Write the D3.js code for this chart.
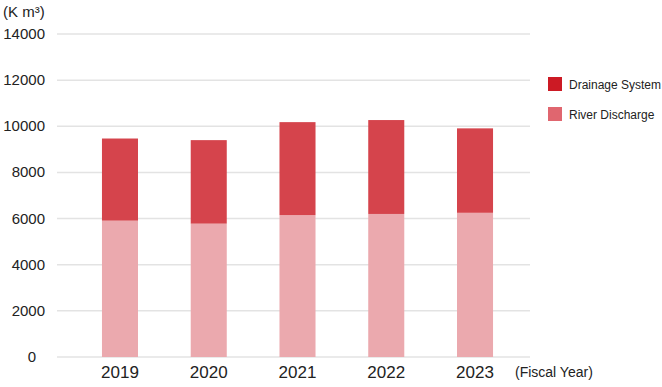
<!DOCTYPE html>
<html>
<head>
<meta charset="utf-8">
<script src="https://cdn.jsdelivr.net/npm/d3@7"></script>
<style>
  body { margin: 0; background: #fff; }
  svg { font-family: "Liberation Sans", Arial, sans-serif; }
</style>
</head>
<body>
<svg id="chart" width="662" height="387"></svg>
<script>
var years = ["2019", "2020", "2021", "2022", "2023"];
var river = [5910, 5780, 6150, 6200, 6250];
var drainage = [3560, 3620, 4030, 4070, 3660];
var yTicks = [0, 2000, 4000, 6000, 8000, 10000, 12000, 14000];
var seriesNames = ["Drainage System", "River Discharge"];

var svg = d3.select("#chart");
var x = d3.scaleBand().domain(years).range([75.6, 519.4]).paddingInner(0.594).paddingOuter(0.297);
var y = d3.scaleLinear().domain([0, 14000]).range([357, 34]);

// grid
svg.selectAll("line.grid").data(yTicks).enter().append("line")
  .attr("x1", 57).attr("x2", 530)
  .attr("y1", function(d){ return y(d); }).attr("y2", function(d){ return y(d); })
  .attr("stroke", "#e3e3e3").attr("stroke-width", 1.5);

// y labels
svg.selectAll("text.ytick").data(yTicks).enter().append("text")
  .attr("x", function(d){ return d == 0 ? 36 : 45; })
  .attr("y", function(d){ return y(d) + 5; })
  .attr("text-anchor", "end").attr("font-size", 15).attr("fill", "#222")
  .text(function(d){ return d; });

svg.append("text").attr("x", 3).attr("y", 17).attr("font-size", 15).attr("fill", "#222").text("(K m³)");

// bars
svg.selectAll("rect.river").data(river).enter().append("rect")
  .attr("x", function(d,i){ return x(years[i]); })
  .attr("y", function(d){ return y(d); })
  .attr("width", x.bandwidth())
  .attr("height", function(d){ return y(0) - y(d); })
  .attr("fill", "#eba9ae");
svg.selectAll("rect.drain").data(drainage).enter().append("rect")
  .attr("x", function(d,i){ return x(years[i]); })
  .attr("y", function(d,i){ return y(river[i] + d); })
  .attr("width", x.bandwidth())
  .attr("height", function(d,i){ return y(river[i]) - y(river[i] + d); })
  .attr("fill", "#d5444c");

// x labels
svg.selectAll("text.xtick").data(years).enter().append("text")
  .attr("x", function(d){ return x(d) + x.bandwidth()/2; })
  .attr("y", 378).attr("text-anchor", "middle")
  .attr("font-size", 17).attr("fill", "#222")
  .text(function(d){ return d; });
svg.append("text").attr("x", 515).attr("y", 377).attr("font-size", 14).attr("fill", "#222").text("(Fiscal Year)");

// legend
var legendColors = ["#cc1a24", "#e0666f"];
var lg = svg.selectAll("g.legend").data(seriesNames).enter().append("g")
  .attr("transform", function(d,i){ return "translate(548," + (77 + i*30) + ")"; });
lg.append("rect").attr("width", 14).attr("height", 14)
  .attr("fill", function(d,i){ return legendColors[i]; });
lg.append("text").attr("x", 21).attr("y", 11.5).attr("font-size", 12).attr("fill", "#222")
  .text(function(d){ return d; });
</script>
</body>
</html>
